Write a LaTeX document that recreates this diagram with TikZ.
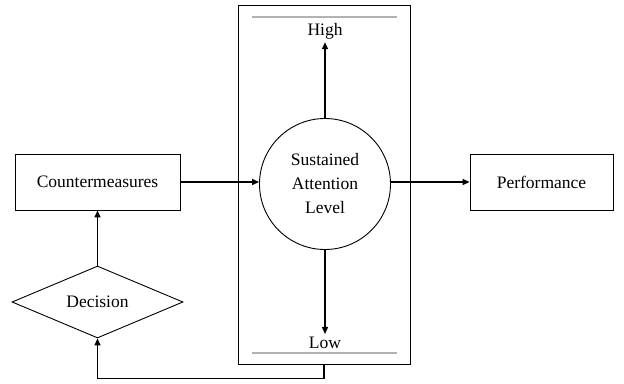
\documentclass[tikz,border=0pt]{standalone}
\usepackage{fontspec}
\setmainfont{Liberation Serif}
\usetikzlibrary{shapes.geometric,arrows.meta}
\begin{document}
\begin{tikzpicture}[x=1pt,y=-1pt,
  every node/.style={font=\fontsize{17.5}{24}\selectfont, align=center},
  box/.style={draw, line width=0.9pt, minimum width=165pt, minimum height=56pt, inner sep=0pt},
  flow/.style={line width=1.4pt, -{Triangle[length=7pt,width=6pt]}},
  rule/.style={draw=black!30, line width=1.4pt},
  label/.style={inner sep=3pt}]
  \useasboundingbox (0,0) rectangle (624,383);

  % tall frame holding the attention scale
  \node[draw, line width=0.9pt, minimum width=172pt, minimum height=359pt, inner sep=0pt] (frame) at (324,184.5) {};
  \coordinate (ruleTL) at (252,17);  \coordinate (ruleTR) at (397,17);
  \coordinate (ruleBL) at (252,353); \coordinate (ruleBR) at (397,353);
  \draw[rule] (ruleTL) -- (ruleTR);
  \draw[rule] (ruleBL) -- (ruleBR);

  \node[draw, circle, line width=0.9pt, minimum size=131pt, inner sep=0pt] (sal) at (325,184) {Sustained\\Attention\\Level};
  \node[label] (high) at (325,31) {High};
  \node[label] (low) at (325,343) {Low};

  \node[box] (cm) at (97.5,182) {Countermeasures};
  \node[box, minimum width=143pt] (perf) at (541.5,182) {Performance};
  \node[draw, diamond, aspect=2.4, line width=0.9pt, minimum width=171pt, minimum height=72pt, inner sep=0pt] (dec) at (97.5,302) {Decision};

  % connectors
  \draw[flow] (sal.north) -- (high.south);
  \draw[flow] (sal.south) -- (low.north);
  \draw[flow] (cm.east) -- (sal.west |- cm.east);
  \draw[flow] (sal.east |- perf.west) -- (perf.west);
  \draw[flow] (dec.north) -- (cm.south);
  \draw[flow] (frame.south) -- ++(0,14) -| (dec.south);
\end{tikzpicture}
\end{document}
